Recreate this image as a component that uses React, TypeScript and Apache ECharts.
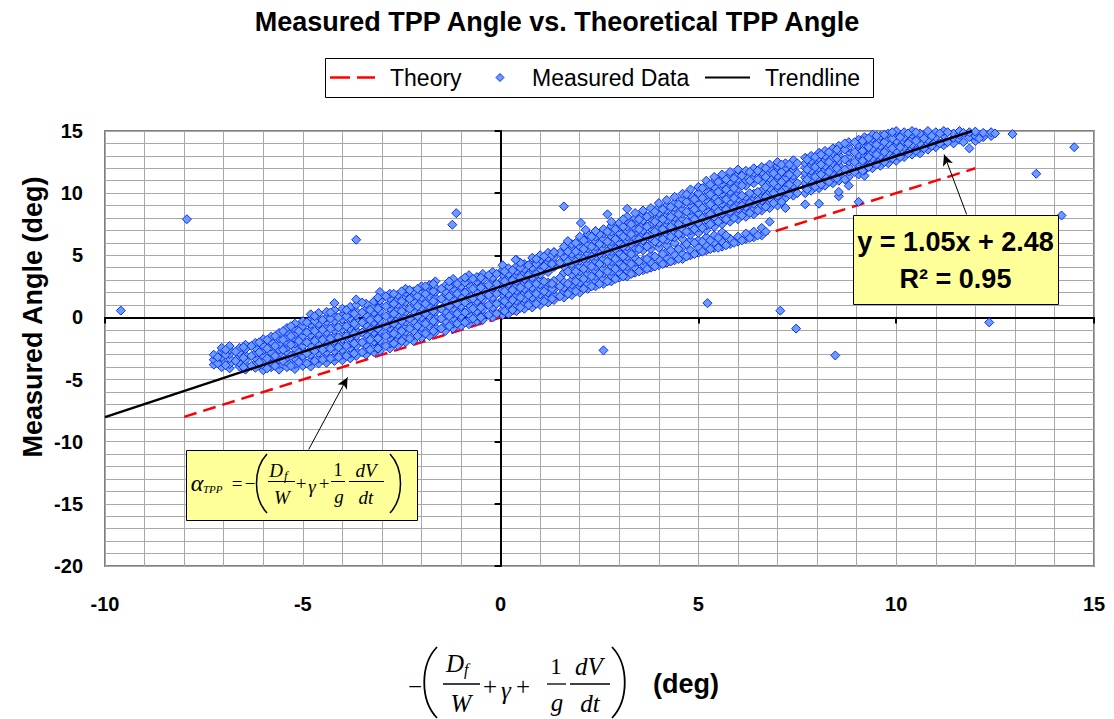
import React, { useEffect, useRef } from "react";
import * as echarts from "echarts";

const SANS = "'Liberation Sans', Arial, Helvetica, sans-serif";
const SERIF = "'Liberation Serif', 'Times New Roman', serif";

const TITLE = "Measured TPP Angle vs. Theoretical TPP Angle";
const Y_NAME = "Measured Angle (deg)";
const LEGEND_NAMES = ["Theory", "Measured Data", "Trendline"];
const X_RANGE = [-10, 15];
const Y_RANGE = [-20, 15];

// Theory line (y = x) end points
const theoryLine: [number, number][] = [[-8, -8], [12, 12]];
// Trendline end points (y = 1.05x + 2.48, clipped at top of plot)
const trendLine: [number, number][] = [[-10, -8.02], [11.92, 15]];

const measuredColumns: [number, number[]][] = [
  [-7.25, [-3.8, -3.4, -3.0]],
  [-7.05, [-4.0, -3.55, -3.2, -2.75, -2.45]],
  [-6.85, [-4.1, -3.75, -3.3, -2.95, -2.6, -2.3]],
  [-6.6, [-3.95, -3.65, -3.15, -2.85, -2.45]],
  [-6.45, [-4.2, -3.8, -3.45, -3.05, -2.55, -2.2]],
  [-6.2, [-4.05, -3.7, -3.25, -2.9, -2.45, -2.05]],
  [-6.0, [-4.25, -3.85, -3.5, -3.05, -2.65, -2.25, -1.75]],
  [-5.8, [-4.0, -3.6, -3.15, -2.8, -2.35, -1.95, -1.55]],
  [-5.6, [-4.2, -3.75, -3.4, -2.95, -2.6, -2.15, -1.7, -1.25]],
  [-5.4, [-4.0, -3.6, -3.25, -2.8, -2.4, -2.05, -1.6, -1.15, -0.85]],
  [-5.2, [-4.15, -3.75, -3.3, -2.9, -2.5, -2.1, -1.7, -1.35, -0.9, -0.5]],
  [-5.0, [-3.9, -3.45, -3.1, -2.65, -2.3, -1.85, -1.5, -1.05, -0.7, -0.3]],
  [-4.8, [-3.95, -3.5, -3.0, -2.6, -2.25, -1.8, -1.4, -1.0, -0.55, -0.2, 0.25]],
  [-4.6, [-3.7, -3.3, -2.85, -2.45, -2.1, -1.65, -1.3, -0.85, -0.5, -0.05, 0.35]],
  [-4.4, [-3.65, -3.2, -2.8, -2.4, -1.95, -1.55, -1.2, -0.75, -0.35, 0.0, 0.45]],
  [-4.2, [-3.5, -3.15, -2.7, -2.3, -1.9, -1.5, -1.05, -0.7, -0.3, 0.15, 0.6, 1.15]],
  [-4.0, [-3.45, -3.0, -2.6, -2.2, -1.75, -1.4, -0.95, -0.6, -0.15, 0.2, 0.7]],
  [-3.8, [-3.3, -2.9, -2.45, -2.1, -1.65, -1.25, -0.9, -0.45, -0.05, 0.35, 0.85]],
  [-3.65, [-3.1, -2.7, -2.3, -1.85, -1.5, -1.05, -0.65, -0.25, 0.15, 0.5, 1.0, 1.45]],
  [-3.4, [-3.0, -2.55, -2.2, -1.8, -1.35, -0.95, -0.6, -0.15, 0.2, 0.65, 1.1]],
  [-3.2, [-2.8, -2.4, -1.95, -1.55, -1.2, -0.75, -0.4, 0.05, 0.4, 0.85, 1.3]],
  [-3.05, [-2.7, -2.25, -1.9, -1.45, -1.1, -0.65, -0.3, 0.15, 0.5, 0.95, 1.35, 2.05]],
  [-2.8, [-2.5, -2.1, -1.65, -1.3, -0.85, -0.5, -0.05, 0.3, 0.75, 1.1, 1.55, 1.9]],
  [-2.6, [-2.25, -1.8, -1.4, -0.95, -0.6, -0.15, 0.25, 0.6, 1.05, 1.4, 1.8]],
  [-2.4, [-2.0, -1.6, -1.15, -0.8, -0.35, 0.0, 0.45, 0.8, 1.25, 1.6, 2.0, 2.3]],
  [-2.2, [-1.9, -1.45, -1.1, -0.65, -0.3, 0.15, 0.5, 0.95, 1.3, 1.75, 2.1]],
  [-2.0, [-1.65, -1.2, -0.8, -0.35, 0.0, 0.45, 0.8, 1.25, 1.6, 2.05, 2.5]],
  [-1.8, [-1.5, -1.05, -0.7, -0.25, 0.1, 0.55, 0.9, 1.35, 1.7, 2.15, 2.6]],
  [-1.65, [-1.2, -0.8, -0.35, 0.0, 0.45, 0.8, 1.25, 1.6, 2.05, 2.4, 2.9]],
  [-1.4, [-1.1, -0.65, -0.3, 0.15, 0.5, 0.95, 1.3, 1.75, 2.1, 2.55]],
  [-1.2, [-0.9, -0.5, -0.05, 0.3, 0.75, 1.1, 1.55, 1.9, 2.35, 2.7, 3.1]],
  [-1.0, [-0.7, -0.25, 0.1, 0.55, 0.9, 1.35, 1.7, 2.15, 2.5, 2.95]],
  [-0.8, [-0.55, -0.2, 0.25, 0.6, 1.05, 1.4, 1.85, 2.2, 2.65, 3.0, 3.4]],
  [-0.6, [-0.3, 0.15, 0.5, 0.95, 1.3, 1.75, 2.1, 2.55, 2.9, 3.25]],
  [-0.45, [-0.2, 0.2, 0.65, 1.0, 1.45, 1.8, 2.25, 2.6, 3.05, 3.5]],
  [-0.2, [0.0, 0.45, 0.8, 1.25, 1.6, 2.05, 2.4, 2.85, 3.2, 3.65]],
  [0.05, [0.2, 0.6, 1.05, 1.4, 1.85, 2.2, 2.65, 3.0, 3.45, 3.8, 4.2]],
  [0.2, [0.3, 0.75, 1.1, 1.55, 1.9, 2.35, 2.7, 3.15, 3.5, 3.95]],
  [0.4, [0.5, 0.9, 1.35, 1.7, 2.15, 2.5, 2.95, 3.3, 3.75, 4.1, 4.65]],
  [0.6, [0.7, 1.15, 1.5, 1.95, 2.3, 2.75, 3.1, 3.55, 3.9, 4.3]],
  [0.8, [0.8, 1.25, 1.6, 2.05, 2.4, 2.85, 3.2, 3.65, 4.0, 4.45, 4.8]],
  [1.0, [1.0, 1.4, 1.85, 2.2, 2.65, 3.0, 3.45, 3.8, 4.25, 4.6, 5.0]],
  [1.2, [1.2, 1.65, 2.0, 2.45, 2.8, 3.65, 4.0, 4.45, 4.8, 5.2]],
  [1.35, [1.4, 1.8, 2.25, 2.6, 2.95, 4.05, 4.4, 4.85, 5.25]],
  [1.6, [1.6, 2.05, 2.4, 2.85, 3.6, 4.1, 4.55, 4.9, 5.35, 5.7]],
  [1.8, [1.8, 2.2, 2.65, 3.0, 3.45, 3.9, 4.3, 4.75, 5.1, 5.55, 5.9]],
  [2.0, [2.0, 2.45, 2.8, 3.25, 3.7, 4.1, 4.55, 4.9, 5.35, 5.7, 6.15, 6.5]],
  [2.2, [2.3, 2.7, 3.15, 3.5, 3.95, 4.3, 4.75, 5.1, 5.55, 5.9, 6.35, 6.7]],
  [2.4, [2.5, 2.95, 3.3, 3.75, 4.1, 4.55, 4.9, 5.35, 5.7, 6.15, 6.5, 6.95]],
  [2.6, [2.7, 3.1, 3.55, 3.9, 4.35, 4.7, 5.15, 5.5, 5.95, 6.3, 6.75, 7.1]],
  [2.8, [2.9, 3.35, 3.7, 4.15, 4.5, 4.95, 5.3, 5.75, 6.1, 6.55, 6.9, 7.35, 7.7]],
  [3.0, [3.2, 3.6, 4.05, 4.4, 4.85, 5.2, 5.65, 6.0, 6.45, 6.8, 7.25, 7.6]],
  [3.2, [3.3, 3.75, 4.1, 4.55, 4.9, 5.35, 5.7, 6.15, 6.5, 6.95, 7.3, 7.75, 8.1]],
  [3.4, [3.6, 4.0, 4.45, 4.8, 5.25, 5.6, 6.05, 6.4, 6.85, 7.2, 7.65, 8.0, 8.4]],
  [3.6, [3.8, 4.25, 4.6, 5.4, 5.85, 6.2, 6.65, 7.0, 7.45, 7.8, 8.25, 8.6]],
  [3.8, [4.0, 4.4, 5.0, 5.5, 5.9, 6.35, 6.7, 7.15, 7.5, 7.95, 8.3, 8.8]],
  [4.0, [4.2, 4.65, 5.6, 6.0, 6.45, 6.8, 7.25, 7.6, 8.05, 8.4, 8.85, 9.2]],
  [4.2, [4.4, 4.8, 5.3, 5.8, 6.25, 6.6, 7.05, 7.4, 7.85, 8.2, 8.65, 9.0, 9.45]],
  [4.4, [4.6, 5.05, 6.0, 6.45, 6.8, 7.25, 7.6, 8.05, 8.4, 8.85, 9.2, 9.7]],
  [4.6, [4.7, 5.1, 5.65, 6.3, 6.75, 7.1, 7.55, 7.9, 8.35, 8.7, 9.15, 9.5, 9.95]],
  [4.8, [5.0, 5.4, 6.2, 6.65, 7.0, 7.45, 7.8, 8.25, 8.6, 9.05, 9.4, 9.85, 10.3]],
  [5.0, [5.2, 5.65, 6.2, 6.8, 7.25, 7.6, 8.05, 8.4, 8.85, 9.2, 9.65, 10.0, 10.5]],
  [5.2, [5.4, 5.8, 6.45, 7.0, 7.4, 7.85, 8.2, 8.65, 9.0, 9.45, 9.8, 10.25, 10.6, 11.0]],
  [5.4, [5.6, 6.05, 6.6, 7.3, 7.75, 8.1, 8.55, 8.9, 9.35, 9.7, 10.15, 10.5, 10.95, 11.3]],
  [5.6, [5.7, 6.1, 6.85, 7.5, 7.9, 8.35, 8.7, 9.15, 9.5, 9.95, 10.3, 10.75, 11.1, 11.5]],
  [5.8, [5.9, 6.35, 7.7, 8.15, 8.5, 8.95, 9.3, 9.75, 10.1, 10.55, 10.9, 11.35, 11.7]],
  [6.0, [6.1, 6.5, 7.9, 8.3, 8.75, 9.1, 9.55, 9.9, 10.35, 10.7, 11.15, 11.5, 11.9]],
  [6.2, [6.3, 6.75, 8.1, 8.55, 8.9, 9.35, 9.7, 10.6, 11.05, 11.4, 11.8]],
  [6.4, [6.45, 6.9, 8.3, 8.7, 9.15, 9.5, 9.95, 10.8, 11.2, 11.65, 12.0]],
  [6.6, [6.6, 7.2, 8.6, 9.05, 9.4, 9.85, 10.2, 10.9, 11.35, 11.7, 12.1]],
  [6.8, [7.7, 8.8, 9.25, 9.6, 10.05, 10.4, 10.85, 11.2, 11.65, 12.0, 12.3]],
  [7.0, [9.0, 9.45, 9.8, 10.25, 10.6, 11.05, 11.4, 11.85, 12.2, 12.5]],
  [7.2, [8.8, 9.6, 10.05, 10.4, 10.85, 11.2, 11.65, 12.0, 12.4]],
  [7.4, [9.8, 10.25, 10.6, 11.05, 11.4, 11.85, 12.2, 12.65]],
  [7.7, [9.1, 10.0, 10.45, 10.8, 11.25, 11.6, 12.05, 12.4, 12.85]],
  [7.85, [10.2, 10.65, 11.0, 11.45, 11.8, 12.25, 12.6, 13.0]],
  [8.05, [9.15, 10.4, 10.85, 11.2, 11.65, 12.0, 12.45, 12.8, 13.25]],
  [8.2, [10.6, 11.05, 11.4, 11.85, 12.2, 12.65, 13.0, 13.4]],
  [8.4, [10.8, 11.25, 11.6, 12.05, 12.4, 12.85, 13.2, 13.6]],
  [8.55, [9.75, 10.1, 11.0, 11.45, 11.8, 12.25, 12.6, 13.05, 13.4, 13.8]],
  [8.8, [10.6, 11.3, 11.75, 12.1, 12.55, 12.9, 13.35, 13.7, 14.1]],
  [9.05, [9.3, 11.5, 11.95, 12.3, 12.75, 13.1, 13.55, 13.9, 14.3]],
  [9.2, [11.4, 11.85, 12.2, 12.65, 13.0, 13.45, 13.8, 14.25, 14.5]],
  [9.4, [12.0, 12.45, 12.8, 13.25, 13.6, 14.05, 14.4, 14.7]],
  [9.6, [12.2, 12.65, 13.0, 13.45, 13.8, 14.25, 14.6]],
  [9.8, [12.4, 12.85, 13.2, 13.65, 14.0, 14.45, 14.8]],
  [10.0, [12.6, 13.05, 13.4, 13.85, 14.2, 14.65, 15.0]],
  [10.2, [12.9, 13.35, 13.7, 14.15, 14.5, 14.9]],
  [10.4, [13.1, 13.55, 13.9, 14.35, 14.7, 15.0]],
  [10.6, [13.2, 13.65, 14.0, 14.45, 14.8]],
  [10.8, [13.5, 13.95, 14.3, 14.75, 15.0]],
  [11.0, [13.7, 14.15, 14.5, 14.9]],
  [11.2, [13.85, 14.2, 14.65, 15.0]],
  [11.45, [14.0, 14.45, 14.8]],
  [11.6, [14.3, 14.7, 15.0]],
  [11.85, [13.6, 14.5, 14.9]],
  [12.0, [14.2, 14.6, 14.95]],
  [12.2, [14.5, 14.85]],
  [12.4, [14.6, 14.9]],
];

// Further measured points lying between the columns above: [x, [y values]]
const measuredColumnsInner: [number, number[]][] = [
  [-7.15, [-3.7, -3.2]],
  [-6.95, [-3.85, -3.0, -2.6]],
  [-6.7, [-3.5, -2.75]],
  [-6.5, [-4.0, -3.25, -2.4]],
  [-6.3, [-3.9, -3.1, -2.3]],
  [-6.1, [-3.6, -2.8, -2.0]],
  [-5.9, [-4.1, -3.3, -2.5, -1.8]],
  [-5.7, [-3.9, -3.1, -2.3, -1.5]],
  [-5.5, [-3.5, -2.6, -1.8, -1.1]],
  [-5.3, [-3.9, -3.1, -2.2, -1.5, -0.7]],
  [-5.1, [-3.6, -2.8, -1.9, -1.1]],
  [-4.9, [-3.7, -2.9, -2.0, -1.2, -0.4]],
  [-4.7, [-3.5, -2.7, -1.9, -1.1, -0.3, 0.1]],
  [-4.5, [-3.4, -2.6, -1.8, -1.0, -0.2]],
  [-4.3, [-3.3, -2.5, -1.7, -0.9, -0.1, 0.4]],
  [-4.1, [-3.2, -2.4, -1.6, -0.8, 0.0]],
  [-3.9, [-3.1, -2.3, -1.5, -0.7, 0.1, 0.6]],
  [-3.7, [-2.9, -2.1, -1.3, -0.5, 0.3]],
  [-3.5, [-2.8, -2.0, -1.2, -0.4, 0.4, 1.2]],
  [-3.3, [-2.6, -1.8, -1.0, -0.2, 0.6]],
  [-3.1, [-2.5, -1.7, -0.9, -0.1, 0.7, 1.6]],
  [-2.9, [-2.3, -1.5, -0.7, 0.1, 0.9, 1.7]],
  [-2.7, [-2.1, -1.3, -0.5, 0.3, 1.1, 1.9]],
  [-2.5, [-1.9, -1.1, -0.3, 0.5, 1.3, 2.1]],
  [-2.3, [-1.7, -0.9, -0.1, 0.7, 1.5, 2.2]],
  [-2.1, [-1.5, -0.7, 0.1, 0.9, 1.7, 2.3]],
  [-1.9, [-1.3, -0.5, 0.3, 1.1, 1.9, 2.5]],
  [-1.7, [-1.1, -0.3, 0.5, 1.3, 2.1, 2.7]],
  [-1.5, [-0.9, -0.1, 0.7, 1.5, 2.3]],
  [-1.3, [-0.7, 0.1, 0.9, 1.7, 2.5, 2.9]],
  [-1.1, [-0.5, 0.3, 1.1, 1.9, 2.7]],
  [-0.9, [-0.4, 0.4, 1.2, 2.0, 2.8, 3.2]],
  [-0.7, [-0.1, 0.7, 1.5, 2.3, 3.1]],
  [-0.5, [0.0, 0.8, 1.6, 2.4, 3.2]],
  [-0.3, [0.2, 1.0, 1.8, 2.6, 3.4]],
  [-0.1, [0.3, 1.1, 1.9, 2.7, 3.5]],
  [0.1, [0.5, 1.3, 2.1, 2.9, 3.7]],
  [0.3, [0.6, 1.4, 2.2, 3.0, 3.8]],
  [0.5, [0.8, 1.6, 2.4, 3.2, 4.0, 4.4]],
  [0.7, [1.0, 1.8, 2.6, 3.4, 4.2]],
  [0.9, [1.1, 1.9, 2.7, 3.5, 4.3, 4.7]],
  [1.1, [1.3, 2.1, 2.9, 4.1, 4.9]],
  [1.3, [1.5, 2.3, 2.7, 4.3, 5.0]],
  [1.5, [1.7, 2.5, 3.2, 4.4, 5.2]],
  [1.7, [1.9, 2.7, 3.7, 4.5, 5.3]],
  [1.9, [2.1, 2.9, 3.7, 4.5, 5.3, 6.0]],
  [2.1, [2.3, 3.1, 3.9, 4.7, 5.5, 6.2]],
  [2.3, [2.5, 3.3, 4.1, 4.9, 5.7, 6.5]],
  [2.5, [2.7, 3.5, 4.3, 5.1, 5.9, 6.7]],
  [2.7, [2.9, 3.7, 4.5, 5.3, 6.1, 6.9]],
  [2.9, [3.1, 3.9, 4.7, 5.5, 6.3, 7.1]],
  [3.1, [3.3, 4.1, 4.9, 5.7, 6.5, 7.3, 7.9]],
  [3.3, [3.5, 4.3, 5.1, 5.9, 6.7, 7.5]],
  [3.5, [3.7, 4.5, 5.5, 6.3, 7.1, 7.9]],
  [3.7, [3.9, 4.7, 5.7, 6.5, 7.3, 8.1]],
  [3.9, [4.1, 4.9, 6.1, 6.9, 7.7, 8.5]],
  [4.1, [4.3, 5.1, 6.3, 7.1, 7.9, 8.7]],
  [4.3, [4.5, 5.4, 6.5, 7.3, 8.1, 8.9]],
  [4.5, [4.7, 5.5, 6.7, 7.5, 8.3, 9.1]],
  [4.7, [4.9, 5.9, 6.9, 7.7, 8.5, 9.3, 9.9]],
  [4.9, [5.1, 6.0, 7.1, 7.9, 8.7, 9.5]],
  [5.1, [5.3, 6.1, 7.2, 8.0, 8.8, 9.6, 10.4]],
  [5.3, [5.5, 6.2, 7.5, 8.3, 9.1, 9.9, 10.7]],
  [5.5, [5.6, 6.4, 7.7, 8.5, 9.3, 10.1, 10.9]],
  [5.7, [5.8, 6.6, 7.9, 8.7, 9.5, 10.3, 11.1]],
  [5.9, [6.0, 8.0, 8.8, 9.6, 10.4, 11.2]],
  [6.1, [6.2, 8.2, 9.0, 9.8, 10.6, 11.4]],
  [6.3, [6.4, 8.4, 9.2, 10.0, 11.0, 11.7]],
  [6.5, [6.6, 8.6, 9.4, 10.1, 11.1, 11.8]],
  [6.7, [6.9, 8.9, 9.7, 10.5, 11.3, 12.0]],
  [6.9, [9.2, 10.0, 10.8, 11.6]],
  [7.1, [9.3, 10.1, 10.9, 11.7, 12.3]],
  [7.3, [9.9, 10.7, 11.5, 12.3]],
  [7.5, [10.0, 10.8, 11.6, 12.4]],
  [7.75, [10.3, 11.1, 11.9, 12.7]],
  [7.95, [10.5, 11.3, 12.1, 12.9]],
  [8.1, [10.7, 11.5, 12.3, 13.1]],
  [8.3, [10.9, 11.7, 12.5, 13.3]],
  [8.5, [11.2, 12.0, 12.8, 13.5]],
  [8.7, [11.1, 11.9, 12.7, 13.5, 14.0]],
  [8.95, [11.7, 12.5, 13.3, 14.1]],
  [9.15, [11.8, 12.6, 13.4, 14.2]],
  [9.3, [12.1, 12.9, 13.7, 14.4]],
  [9.5, [12.3, 13.1, 13.9, 14.6]],
  [9.7, [12.5, 13.3, 14.1, 14.7]],
  [9.9, [12.8, 13.6, 14.4, 14.9]],
  [10.1, [12.9, 13.7, 14.5]],
  [10.3, [13.2, 14.0, 14.8]],
  [10.5, [13.4, 14.2, 14.9]],
  [10.7, [13.6, 14.4]],
  [10.9, [13.8, 14.6]],
  [11.1, [14.0, 14.8]],
  [11.3, [14.1, 14.9]],
  [11.7, [14.1, 14.85]],
  [12.1, [14.4]],
];

// Isolated points outside the main cloud
const measuredOutliers: [number, number][] = [
  [-9.6, 0.55], [-7.93, 7.9], [-3.65, 6.25], [-1.12, 8.39], [-1.22, 7.46],
  [1.6, 8.93], [3.2, 8.74], [2.7, 8.3], [2.03, 7.6], [2.15, 7.05], [2.4, 6.95],
  [1.7, 6.14], [1.35, 5.25], [0.38, 4.64], [5.23, 1.15], [2.6, -2.65],
  [7.07, 0.54], [7.47, -0.9], [8.46, -3.06], [12.35, -0.4], [14.18, 8.2],
  [13.54, 11.56], [14.5, 13.7], [12.94, 14.75], [12.5, 14.8],
];

// Annotation arrows (data coordinates): [from, to]
const arrowToTrend: [number, number][] = [[11.78, 8.29], [11.21, 13.11]];
const arrowToTheory: [number, number][] = [[-4.85, -10.62], [-3.87, -4.83]];

const EQUATION_LINES = ["y = 1.05x + 2.48", "R\u00B2 = 0.95"];

const RED = "#ff0000";
const MARK_FILL = "#6b9cff";
const MARK_BORDER = "#0d2bff";

function txt(text: string, x: number, y: number, size: number, italic: boolean, align = "center", family = SERIF, weight = "normal") {
  return {
    type: "text",
    x,
    y,
    z: 100,
    style: {
      text,
      fontFamily: family,
      fontSize: size,
      fontStyle: italic ? "italic" : "normal",
      fontWeight: weight,
      fill: "#000",
      align,
      verticalAlign: "middle",
    },
  };
}
function seg(x1: number, y1: number, x2: number, y2: number, w = 1, color = "#000") {
  return { type: "line", z: 100, shape: { x1, y1, x2, y2 }, style: { stroke: color, lineWidth: w } };
}
function paren(xEnd: number, xMid: number, y1: number, y2: number, w: number) {
  const h = y2 - y1;
  return {
    type: "bezierCurve",
    z: 100,
    shape: { x1: xEnd, y1, x2: xEnd, y2, cpx1: xMid, cpy1: y1 + h * 0.25, cpx2: xMid, cpy2: y1 + h * 0.75 },
    style: { stroke: "#000", lineWidth: w, fill: null },
  };
}

function buildGraphics() {
  const legend = [
    { type: "rect", z: 99, shape: { x: 325.5, y: 58.5, width: 548, height: 39 }, style: { fill: "#fff", stroke: "#000", lineWidth: 1 } },
    seg(330, 77.5, 350, 77.5, 2.5, RED),
    seg(357, 77.5, 375, 77.5, 2.5, RED),
    txt(LEGEND_NAMES[0], 390, 78, 23, false, "left", SANS),
    {
      type: "polygon",
      z: 100,
      shape: { points: [[500, 73.5], [504, 77.5], [500, 81.5], [496, 77.5]] },
      style: { fill: MARK_FILL, stroke: MARK_BORDER, lineWidth: 1 },
    },
    txt(LEGEND_NAMES[1], 532, 78, 23, false, "left", SANS),
    seg(705, 77.5, 750, 77.5, 2, "#000"),
    txt(LEGEND_NAMES[2], 765, 78, 23, false, "left", SANS),
  ];
  const yName = {
    type: "text",
    x: 33,
    y: 317,
    rotation: Math.PI / 2,
    z: 100,
    style: { text: Y_NAME, fontFamily: SANS, fontSize: 27, fontWeight: "bold", fill: "#000", align: "center", verticalAlign: "middle" },
  };
  const boxFormula = [
    { type: "rect", z: 99, shape: { x: 186.5, y: 450.5, width: 231, height: 70 }, style: { fill: "#ffff99", stroke: "#000", lineWidth: 1 } },
    txt("\u03B1", 197, 483, 24, true),
    txt("TPP", 203, 489, 11, true, "left"),
    txt("=", 237, 483, 19, false),
    txt("\u2212", 250, 483, 19, false),
    paren(267, 253, 454, 513, 1.5),
    txt("D", 276, 470, 19, true),
    txt("f", 284, 475, 13, true, "left"),
    seg(268, 481.5, 295, 481.5),
    txt("W", 282, 497, 19, true),
    txt("+", 301, 483, 19, false),
    txt("\u03B3", 312, 486, 19, true),
    txt("+", 324, 483, 19, false),
    txt("1", 338, 470, 18, false),
    seg(331, 481.5, 345, 481.5),
    txt("g", 339, 496, 19, true),
    txt("dV", 366, 470, 19, true),
    seg(349, 481.5, 384, 481.5),
    txt("dt", 366, 497, 19, true),
    paren(390, 404, 454, 513, 1.5),
  ];
  const axisFormula = [
    txt("\u2212", 415, 686, 25, false),
    paren(437, 420, 647, 718, 1.8),
    txt("D", 455, 663, 25, true),
    txt("f", 464, 669, 16, true, "left"),
    seg(443, 684, 480, 684, 1.3),
    txt("W", 461, 703, 25, true),
    txt("+", 490, 686, 25, false),
    txt("\u03B3", 506, 690, 25, true),
    txt("+", 523, 686, 25, false),
    txt("1", 556, 666, 23, false),
    seg(547, 684, 566, 684, 1.3),
    txt("g", 557, 702, 25, true),
    txt("dV", 589, 666, 25, true),
    seg(570, 684, 610, 684, 1.3),
    txt("dt", 590, 703, 25, true),
    paren(612, 629, 647, 718, 1.8),
    txt("(deg)", 653, 684, 27, false, "left", SANS, "bold"),
  ];
  const eqBox = [
    { type: "rect", z: 99, shape: { x: 853.5, y: 215.5, width: 205, height: 89 }, style: { fill: "#ffff99", stroke: "#000", lineWidth: 1 } },
    txt(EQUATION_LINES[0], 955.5, 242, 27, false, "center", SANS, "bold"),
    txt(EQUATION_LINES[1], 955.5, 279, 27, false, "center", SANS, "bold"),
  ];
  return [...legend, yName, ...boxFormula, ...axisFormula, ...eqBox];
}

export default function App() {
  const ref = useRef<HTMLDivElement>(null);
  useEffect(() => {
    if (!ref.current) return;
    const chart = echarts.init(ref.current, undefined, { renderer: "svg" });
    const measured: [number, number][] = [];
    measuredColumns.forEach(([x, ys]) => ys.forEach((y) => measured.push([x, y])));
    measuredColumnsInner.forEach(([x, ys]) => ys.forEach((y) => measured.push([x, y])));
    measuredOutliers.forEach((p) => measured.push(p));

    const GRID_C = "#a8a8a8";
    const option: any = {
      animation: false,
      backgroundColor: "#fff",
      title: {
        text: TITLE,
        left: "center",
        top: 3,
        textStyle: { fontFamily: SANS, fontSize: 27, fontWeight: "bold", color: "#000" },
      },
      grid: {
        left: 105,
        right: 20,
        top: 131,
        bottom: 153,
        show: true,
        borderColor: "#808080",
        borderWidth: 2,
        backgroundColor: "transparent",
      },
      xAxis: [
        {
          type: "value",
          min: X_RANGE[0],
          max: X_RANGE[1],
          interval: 5,
          position: "bottom",
          axisLine: { show: false, onZero: false },
          axisTick: { show: false },
          axisLabel: { fontFamily: SANS, fontSize: 20, fontWeight: "bold", color: "#000", margin: 28 },
          splitLine: { show: true, lineStyle: { color: GRID_C, width: 1 } },
          minorTick: { show: false, splitNumber: 5 },
          minorSplitLine: { show: true, lineStyle: { color: GRID_C, width: 1 } },
        },
        {
          type: "value",
          min: X_RANGE[0],
          max: X_RANGE[1],
          interval: 5,
          position: "bottom",
          axisLine: { show: true, onZero: true, lineStyle: { color: "#000", width: 2 } },
          axisTick: { show: true, inside: false, length: 6, lineStyle: { color: "#000", width: 2 } },
          axisLabel: { show: false },
          splitLine: { show: false },
        },
      ],
      yAxis: [
        {
          type: "value",
          min: Y_RANGE[0],
          max: Y_RANGE[1],
          interval: 5,
          position: "left",
          axisLine: { show: false, onZero: false },
          axisTick: { show: false },
          axisLabel: { fontFamily: SANS, fontSize: 20, fontWeight: "bold", color: "#000", margin: 22 },
          splitLine: { show: true, lineStyle: { color: GRID_C, width: 1 } },
          minorTick: { show: false, splitNumber: 5 },
          minorSplitLine: { show: true, lineStyle: { color: GRID_C, width: 1 } },
        },
        {
          type: "value",
          min: Y_RANGE[0],
          max: Y_RANGE[1],
          interval: 5,
          position: "left",
          axisLine: { show: true, onZero: true, lineStyle: { color: "#000", width: 2 } },
          axisTick: { show: true, inside: false, length: 6, lineStyle: { color: "#000", width: 2 } },
          axisLabel: { show: false },
          splitLine: { show: false },
        },
      ],
      series: [
        {
          name: "Theory",
          type: "line",
          data: theoryLine,
          symbol: "none",
          showSymbol: false,
          lineStyle: { color: RED, width: 2.5, type: [13, 7] },
          itemStyle: { color: RED },
          z: 2,
          silent: true,
        },
        {
          name: "Measured Data",
          type: "scatter",
          data: measured,
          symbol: "diamond",
          symbolSize: 9,
          itemStyle: { color: MARK_FILL, borderColor: MARK_BORDER, borderWidth: 1, opacity: 1 },
          z: 3,
          silent: true,
        },
        {
          name: "Trendline",
          type: "line",
          data: trendLine,
          symbol: "none",
          showSymbol: false,
          lineStyle: { color: "#000", width: 2.5 },
          itemStyle: { color: "#000" },
          z: 4,
          silent: true,
          markLine: {
            silent: true,
            symbol: ["none", "arrow"],
            symbolSize: [8, 11],
            lineStyle: { color: "#000", width: 1, type: "solid" },
            label: { show: false },
            data: [
              [{ coord: arrowToTrend[0] }, { coord: arrowToTrend[1] }],
              [{ coord: arrowToTheory[0] }, { coord: arrowToTheory[1] }],
            ],
          },
        },
      ],
      graphic: buildGraphics(),
    };
    chart.setOption(option);
    return () => chart.dispose();
  }, []);
  return <div ref={ref} style={{ position: "absolute", left: 0, top: 0, width: 1114, height: 719 }} />;
}
